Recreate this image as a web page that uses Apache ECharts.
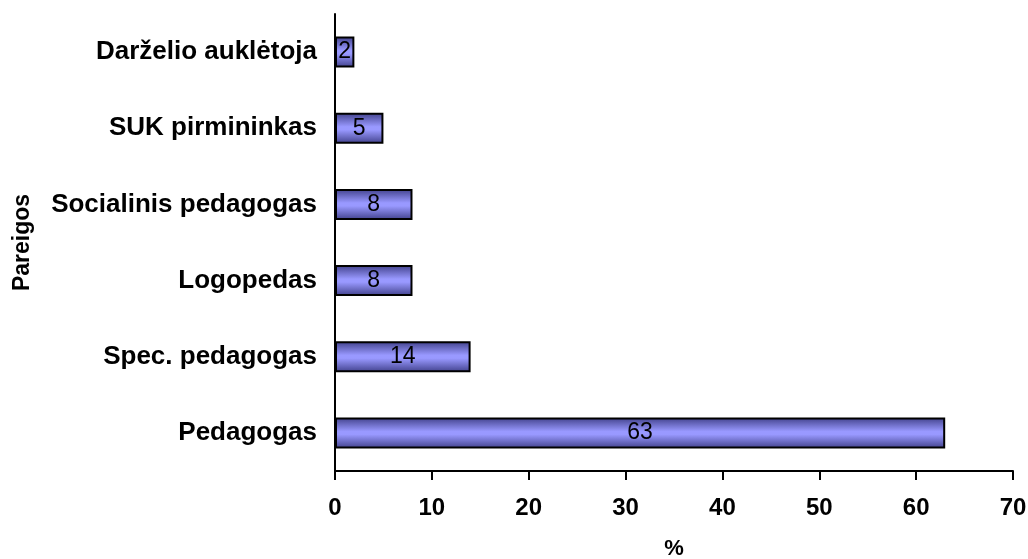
<!DOCTYPE html>
<html>
<head>
<meta charset="utf-8">
<style>
  html, body { margin: 0; padding: 0; background: #ffffff; }
  #chart { width: 1028px; height: 559px; }
</style>
<script src="https://cdn.jsdelivr.net/npm/echarts@6/dist/echarts.min.js"></script>
</head>
<body>
<div id="chart"></div>
<script>
// Positions, bottom to top
const categories = ['Pedagogas', 'Spec. pedagogas', 'Logopedas', 'Socialinis pedagogas', 'SUK pirmininkas', 'Darželio auklėtoja'];
// Share of respondents, %
const values = [63, 14, 8, 8, 5, 2];
const xTicks = [0, 10, 20, 30, 40, 50, 60, 70];

const FONT = '"Liberation Sans", Arial, sans-serif';

const chart = echarts.init(document.getElementById('chart'), null, { renderer: 'canvas' });

chart.setOption({
  animation: false,
  backgroundColor: '#ffffff',
  grid: { left: 335, right: 15, top: 14, bottom: 88, containLabel: false, outerBoundsMode: 'none' },
  xAxis: {
    type: 'value',
    min: xTicks[0],
    max: xTicks[xTicks.length - 1],
    interval: xTicks[1] - xTicks[0],
    name: '%',
    nameLocation: 'middle',
    nameGap: 67,
    nameTextStyle: { fontFamily: FONT, fontWeight: 'bold', fontSize: 22, color: '#000' },
    axisLine: { show: true, lineStyle: { color: '#000', width: 2 } },
    axisTick: { show: true, inside: false, length: 9, lineStyle: { color: '#000', width: 2 } },
    axisLabel: { fontFamily: FONT, fontWeight: 'bold', fontSize: 24, color: '#000', margin: 25 },
    splitLine: { show: false }
  },
  yAxis: {
    type: 'category',
    data: categories,
    name: 'Pareigos',
    nameLocation: 'middle',
    nameRotate: 90,
    nameGap: 301,
    nameTextStyle: { fontFamily: FONT, fontWeight: 'bold', fontSize: 23, color: '#000' },
    axisLine: { show: true, lineStyle: { color: '#000', width: 2 } },
    axisTick: { show: false },
    axisLabel: { fontFamily: FONT, fontWeight: 'bold', fontSize: 26, color: '#000', margin: 18 },
    splitLine: { show: false }
  },
  series: [{
    type: 'bar',
    data: values,
    barWidth: 31,
    itemStyle: {
      color: new echarts.graphic.LinearGradient(0, 0, 0, 1, [
        { offset: 0, color: '#40408a' },
        { offset: 0.45, color: '#9999ff' },
        { offset: 0.55, color: '#9999ff' },
        { offset: 1, color: '#40408a' }
      ]),
      borderColor: '#000',
      borderWidth: 2
    },
    label: {
      show: true,
      position: 'inside',
      fontFamily: FONT,
      fontSize: 23,
      color: '#000'
    }
  }]
});
</script>
</body>
</html>
